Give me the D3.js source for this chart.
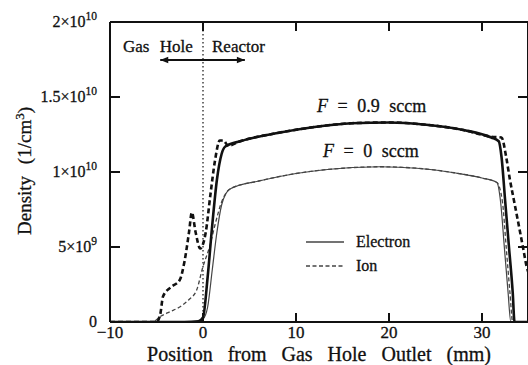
<!DOCTYPE html>
<html>
<head>
<meta charset="utf-8">
<script src="https://cdn.jsdelivr.net/npm/d3@7"></script>
<style>
  body { margin: 0; background: #fff; }
  svg text { font-family: "Times New Roman", Times, "Liberation Serif", Tinos, "DejaVu Serif", serif;
             fill: #111; stroke: #111; stroke-width: 0.3; }
</style>
</head>
<body>
<script>
var width = 528,
    height = 365;

// positions in mm, densities in units of 1e9 cm^-3
var electron09 = [[-10,0],[-2,0],[-0.5,0.05],[0,0.3],[0.5,3],[1,6.5],[1.5,9.5],[2.0,11.2],[2.4,11.7],[4,12.05],
  [8,12.6],[12,13.0],[16,13.25],[20,13.3],[24,13.15],[28,12.8],[31,12.3],[31.8,12.05],[32.1,11.0],[32.5,8],
  [32.9,5],[33.3,2],[33.5,0],[35,0]];
var ion09 = [[-10,0],[-5,0],[-4.6,0.5],[-4.3,1.7],[-3.5,2.3],[-2.5,2.8],[-2.0,4.0],[-1.5,6.0],[-1.2,7.3],
  [-0.8,6.0],[-0.3,4.9],[0.3,6.0],[0.8,8.5],[1.3,10.8],[1.8,12.1],[2.2,12.1],[2.7,11.75],[4,12.05],
  [8,12.6],[12,13.0],[16,13.25],[20,13.3],[24,13.15],[28,12.8],[31,12.35],[32.1,12.3],[32.6,11],[33,9.5],
  [33.5,7.9],[34,6.3],[34.4,5.0],[34.8,3.7],[35.3,2.9]];
var electron0 = [[-10,0],[-1,0],[0,0.2],[0.5,1],[1,3.5],[1.5,6],[2,7.8],[2.5,8.6],[3,8.9],[6,9.4],[10,9.9],
  [15,10.25],[19,10.35],[23,10.25],[27,9.95],[30,9.6],[31.6,9.3],[32,8],[32.4,5],[32.8,2],[33.1,0],[35,0]];
var ion0 = [[-10,0],[-5.5,0],[-4.5,0.4],[-3.5,0.7],[-2.5,1.0],[-1.5,1.5],[-0.7,2.1],[0,3.7],[0.7,5.0],
  [1.3,6.5],[2,8],[2.6,8.7],[3,8.9],[6,9.4],[10,9.9],[15,10.25],[19,10.35],[23,10.25],[27,9.95],[30,9.6],
  [31.6,9.3],[32.2,8],[32.6,5],[33,2],[33.3,0],[35,0]];

var xTicks = [-10, 0, 10, 20, 30];
var yTicks = [0, 5, 10, 15, 20];
var yTickLabels = [['0', ''], ['5×10', '9'], ['1×10', '10'], ['1.5×10', '10'], ['2×10', '10']];

var x = d3.scaleLinear().domain([-10, 35]).range([110, 528.5]);
var y = d3.scaleLinear().domain([0, 20]).range([322, 22]);

var svg = d3.select('body')
  .append('svg')
    .attr('width', width)
    .attr('height', height);

svg.append('defs').append('clipPath').attr('id', 'clip')
  .append('rect')
    .attr('x', 110).attr('y', 22)
    .attr('width', 418).attr('height', 300);

// dotted line at the outlet
svg.append('line')
    .attr('x1', x(0)).attr('x2', x(0))
    .attr('y1', y(20)).attr('y2', y(0))
    .attr('stroke', '#333')
    .attr('stroke-width', 1.4)
    .attr('stroke-dasharray', '1.4,2.6');

var line = d3.line()
    .x(function(d){ return x(d[0]); })
    .y(function(d){ return y(d[1]); })
    .curve(d3.curveMonotoneX);

var series = [
  { data: electron0, w: 1.2, dash: null, c: '#444' },
  { data: ion0, w: 1.3, dash: '4,2.5', c: '#444' },
  { data: electron09, w: 2.6, dash: null, c: '#111' },
  { data: ion09, w: 2.6, dash: '5,3', c: '#111' }
];

var plot = svg.append('g').attr('clip-path', 'url(#clip)');
plot.selectAll('path')
    .data(series).enter()
  .append('path')
    .attr('d', function(d){ return line(d.data); })
    .attr('fill', 'none')
    .attr('stroke', function(d){ return d.c; })
    .attr('stroke-width', function(d){ return d.w; })
    .attr('stroke-dasharray', function(d){ return d.dash; })
    .attr('stroke-linejoin', 'round');

// frame and inward ticks
var frame = svg.append('g').attr('stroke', '#111').attr('stroke-width', 2);
frame.append('line').attr('x1', 110).attr('x2', 528).attr('y1', y(0)).attr('y2', y(0));
frame.append('line').attr('x1', 110).attr('x2', 528).attr('y1', y(20)).attr('y2', y(20));
frame.append('line').attr('x1', 110).attr('x2', 110).attr('y1', y(0)).attr('y2', y(20));
frame.append('line').attr('x1', 528).attr('x2', 528).attr('y1', y(0)).attr('y2', y(20));

frame.selectAll('.xb').data(xTicks.slice(1)).enter().append('line')
    .attr('x1', x).attr('x2', x).attr('y1', y(0)).attr('y2', y(0) - 9);
frame.selectAll('.xt').data(xTicks.slice(1)).enter().append('line')
    .attr('x1', x).attr('x2', x).attr('y1', y(20)).attr('y2', y(20) + 9);
frame.selectAll('.yl').data(yTicks.slice(1, 4)).enter().append('line')
    .attr('x1', 110).attr('x2', 120).attr('y1', y).attr('y2', y);
frame.selectAll('.yr').data(yTicks.slice(1, 4)).enter().append('line')
    .attr('x1', 528).attr('x2', 518).attr('y1', y).attr('y2', y);

// tick labels
svg.selectAll('.xl').data(xTicks).enter().append('text')
    .attr('x', function(d){ return x(d); })
    .attr('y', 338)
    .attr('text-anchor', 'middle')
    .attr('font-size', 17)
    .text(function(d){ return d < 0 ? '\u2212' + (-d) : d; });

var yl = svg.selectAll('.ylab').data(yTicks).enter().append('text')
    .attr('x', 97)
    .attr('y', function(d){ return y(d) + 5; })
    .attr('text-anchor', 'end')
    .attr('font-size', 16);
yl.append('tspan').text(function(d, i){ return yTickLabels[i][0]; });
yl.append('tspan')
    .attr('dy', -7)
    .attr('font-size', 11.5)
    .text(function(d, i){ return yTickLabels[i][1]; });

// axis titles
svg.append('text')
    .attr('x', 319).attr('y', 361)
    .attr('text-anchor', 'middle')
    .attr('font-size', 20)
    .attr('word-spacing', 10)
    .text('Position from Gas Hole Outlet (mm)');

var yt = svg.append('text')
    .attr('transform', 'translate(31,171) rotate(-90)')
    .attr('text-anchor', 'middle')
    .attr('font-size', 19)
    .attr('word-spacing', 7);
yt.append('tspan').text('Density (1/cm');
yt.append('tspan').attr('dy', -7).attr('font-size', 13).text('3');
yt.append('tspan').attr('dy', 7).text(')');

// gas hole / reactor annotation
svg.append('text').attr('x', 123).attr('y', 52).attr('font-size', 17)
    .attr('word-spacing', 6).text('Gas Hole');
svg.append('text').attr('x', 212).attr('y', 52).attr('font-size', 17).text('Reactor');

var marker = svg.select('defs').append('marker')
    .attr('id', 'head')
    .attr('viewBox', '0 0 10 10')
    .attr('refX', 10).attr('refY', 5)
    .attr('markerWidth', 5).attr('markerHeight', 4)
    .attr('orient', 'auto-start-reverse')
    .attr('markerUnits', 'strokeWidth');
marker.append('path').attr('d', 'M0,1 L10,5 L0,9 z').attr('fill', '#111');

svg.append('line')
    .attr('x1', x(-4.6)).attr('x2', x(4.5))
    .attr('y1', 60).attr('y2', 60)
    .attr('stroke', '#111').attr('stroke-width', 2)
    .attr('marker-start', 'url(#head)')
    .attr('marker-end', 'url(#head)');

// curve labels
function flowLabel(cx, cy, val){
  var t = svg.append('text')
      .attr('x', cx).attr('y', cy)
      .attr('font-size', 18)
      .attr('word-spacing', 5);
  t.append('tspan').attr('font-style', 'italic').text('F');
  t.append('tspan').text(' = ' + val + ' sccm');
}
flowLabel(317, 112, '0.9');
flowLabel(323, 157, '0');

// legend
var legend = [
  { name: 'Electron', dash: null, y: 242 },
  { name: 'Ion', dash: '4,2.5', y: 266 }
];
var lg = svg.selectAll('.lg').data(legend).enter().append('g');
lg.append('line')
    .attr('x1', 306).attr('x2', 344)
    .attr('y1', function(d){ return d.y; }).attr('y2', function(d){ return d.y; })
    .attr('stroke', '#444').attr('stroke-width', 1.3)
    .attr('stroke-dasharray', function(d){ return d.dash; });
lg.append('text')
    .attr('x', 356)
    .attr('y', function(d){ return d.y + 5; })
    .attr('font-size', 16)
    .text(function(d){ return d.name; });
</script>
</body>
</html>
